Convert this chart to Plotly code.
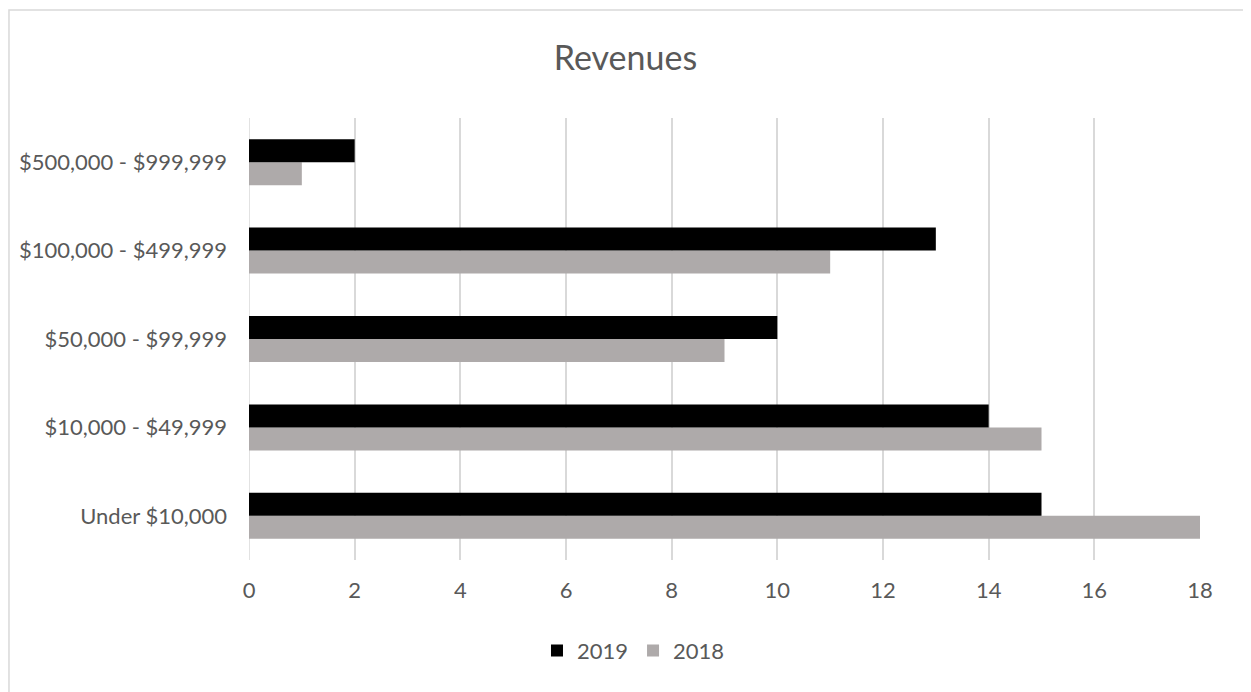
import plotly.graph_objects as go

categories = ["Under $10,000", "$10,000 - $49,999", "$50,000 - $99,999",
              "$100,000 - $499,999", "$500,000 - $999,999"]
values_2019 = [15, 14, 10, 13, 2]
values_2018 = [18, 15, 9, 11, 1]

FONT = "Lato, Open Sans, sans-serif"
TEXT = "#595959"

fig = go.Figure()
# 2018 first so 2019 sits on top within each group
fig.add_trace(go.Bar(name="2018", y=categories, x=values_2018, orientation="h",
                     marker=dict(color="#AEAAAA", line=dict(width=0))))
fig.add_trace(go.Bar(name="2019", y=categories, x=values_2019, orientation="h",
                     marker=dict(color="#000000", line=dict(width=0))))

fig.update_layout(
    width=1251, height=692,
    margin=dict(l=241, r=59, t=110, b=140),
    paper_bgcolor="white", plot_bgcolor="white",
    barmode="group", bargap=0.48, bargroupgap=0,
    font=dict(family=FONT, color=TEXT, size=22),
    title=dict(text="Revenues", x=0.4936, xanchor="center", y=0.928, yanchor="middle",
               font=dict(size=34, color=TEXT, family=FONT)),
    legend=dict(orientation="h", x=0.4043, xanchor="center",
                y=-0.205, yanchor="middle", traceorder="reversed",
                font=dict(size=22, color=TEXT)),
    xaxis=dict(range=[0, 18], dtick=2, showgrid=True, gridcolor="#D9D9D9", gridwidth=1.5,
               zeroline=False, showline=False, ticks="", ticklabelstandoff=15,
               tickfont=dict(size=22, color=TEXT)),
    yaxis=dict(showgrid=False, zeroline=False, showline=False, ticks="",
               ticklabelstandoff=21, tickfont=dict(size=22, color=TEXT)),
    shapes=[dict(type="line", xref="x", yref="paper", x0=0, x1=0, y0=0, y1=1,
                 line=dict(color="#D9D9D9", width=1.5), layer="below"),
            dict(type="rect", xref="paper", yref="paper",
                 x0=-0.2524, x1=1.0484, y0=-0.4, y1=1.2443,
                 line=dict(color="#D9D9D9", width=1.5))],
)

fig.write_html("out.html")
